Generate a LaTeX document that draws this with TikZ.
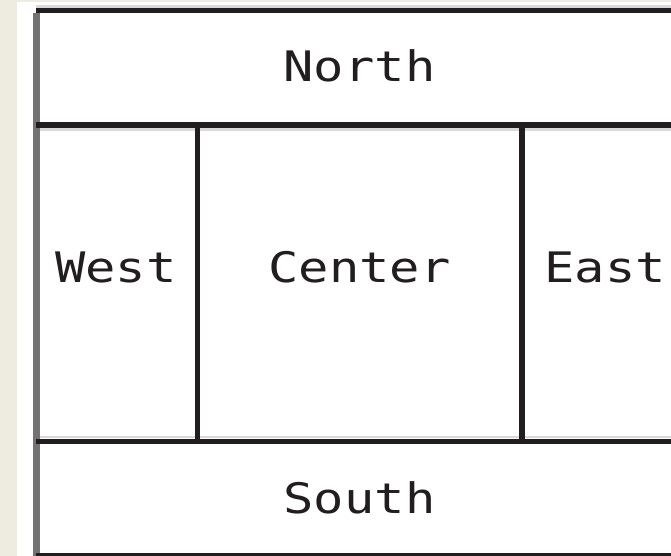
\documentclass[tikz,border=0pt]{standalone}
\usepackage{fontspec}
\newfontfamily\panefont[FakeStretch=1.2]{DejaVu Sans Mono}
\definecolor{pagebg}{HTML}{EEEBE0}
\definecolor{rulecol}{HTML}{221E1F}
\definecolor{edgecol}{HTML}{737373}
\begin{document}
\begin{tikzpicture}[x=1pt, y=-1pt,
  divider/.style={draw=rulecol, line width=5.5pt},
  shade/.style={draw=black!15, line width=2.5pt},
  edge/.style={draw=edgecol, line width=7pt},
  pane/.style={font={\fontsize{42}{42}\panefont}, text=rulecol, anchor=base, inner sep=0pt}]
  % page and frame
  \fill[pagebg] (0,0) rectangle (671,556);
  \fill[white] (17,2) rectangle (671,556);
  \useasboundingbox (0,0) rectangle (671,556);

  \coordinate (TL) at (36,10.5);
  \coordinate (TR) at (671,10.5);
  \coordinate (NL) at (36,125);
  \coordinate (NR) at (671,125);
  \coordinate (SL) at (36,441.5);
  \coordinate (SR) at (671,441.5);
  \coordinate (BL) at (36,555.5);
  \coordinate (BR) at (671,555.5);
  \coordinate (W1) at (197.5,125);
  \coordinate (W2) at (197.5,441.5);
  \coordinate (E1) at (522,125);
  \coordinate (E2) at (522,441.5);

  % light shading beside the rules
  \draw[shade] ([yshift=4pt]TL) -- ([yshift=4pt]TR);
  \draw[shade] ([yshift=-4.5pt]NL) -- ([yshift=-4.5pt]NR);
  \draw[shade] ([yshift=4.5pt]SL) -- ([yshift=4.5pt]SR);
  \draw[shade] ([yshift=-4pt]BL) -- ([yshift=-4pt]BR);

  % borders
  \draw[edge] ([yshift=-3pt]TL) -- (BL);
  \draw[divider] (TL) -- (TR);
  \draw[divider] (NL) -- (NR);
  \draw[divider] (SL) -- (SR);
  \draw[divider] (BL) -- (BR);
  \draw[divider] (W1) -- (W2);
  \draw[divider] (E1) -- (E2);

  % labels
  \node[pane] (north) at (359.5,82) {North};
  \node[pane] (west) at (116,282) {West};
  \node[pane] (center) at (359.5,282) {Center};
  \node[pane] (east) at (605,282) {East};
  \node[pane] (south) at (359.5,513) {South};
\end{tikzpicture}
\end{document}
